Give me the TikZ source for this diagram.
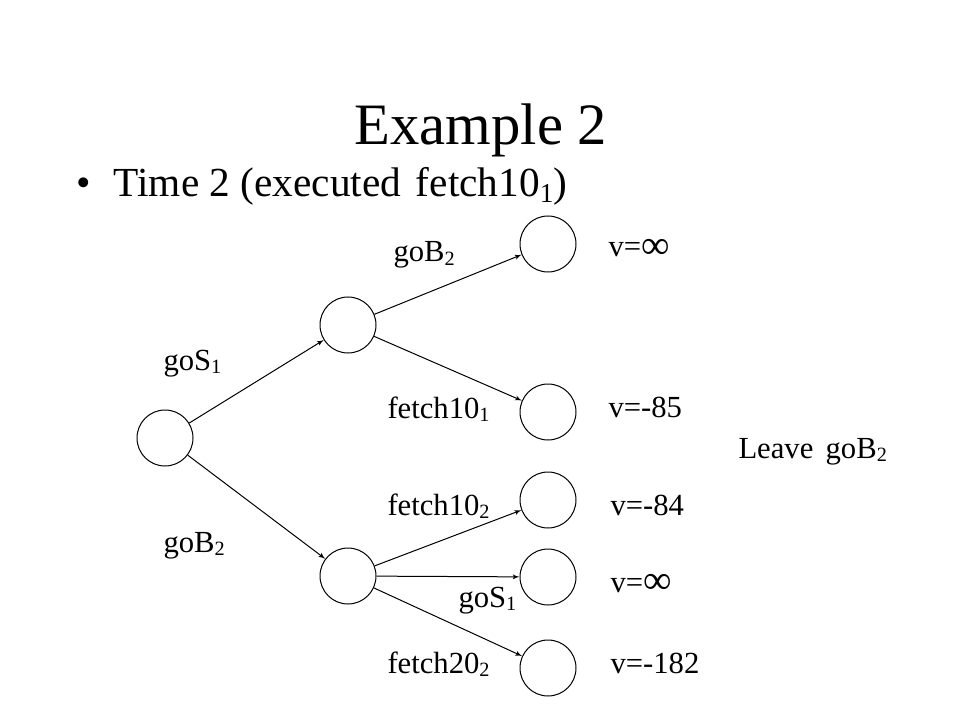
\documentclass[tikz,border=0pt]{standalone}
\usepackage{fontspec}
\setmainfont{Liberation Serif}
\usetikzlibrary{arrows,positioning}
\tikzstyle{situation}=[draw, circle, fill=white, minimum size=42pt, inner sep=0pt]
\tikzstyle{word}=[anchor=base west, inner sep=0pt, font=\fontsize{23}{27}\selectfont]
\newcommand{\lowidx}[1]{\raisebox{-0.13em}{\scalebox{0.66}{#1}}}
\newcommand{\bigINF}{\raisebox{-0.05em}{\scalebox{1.3}{∞}}}

\begin{document}
\begin{tikzpicture}[x=0.75pt,y=-0.75pt,>=latex',line width=0.75pt]
                        \useasboundingbox (0,0) rectangle (960,720);
                        \node [anchor=base,inner sep=0pt,font=\fontsize{44}{50}\selectfont] (title) at (481,145) {Example 2};
                        \node [anchor=base west,inner sep=0pt,font=\fontsize{31}{37}\selectfont] (time) at (76,197) {•\hspace{0.55em}Time 2 (executed\hspace{0.35em}fetch10\lowidx{1})};
                        % game tree
                        \node [situation] (root) at (165,438) {};
                        \node [situation] (up) at (348,325) {};
                        \node [situation] (down) at (348,576) {};
                        \node [situation] (l1) at (548,244) {};
                        \node [situation] (l2) at (548,412) {};
                        \node [situation] (l3) at (548,500) {};
                        \node [situation] (l4) at (548,577) {};
                        \node [situation] (l5) at (548,668) {};
                        \path[->]
                        (root) edge node {} (up)
                        (root) edge node {} (down)
                        (up) edge node {} (l1)
                        (up) edge node {} (l2)
                        (down) edge node {} (l3)
                        (down) edge node {} (l4)
                        (down) edge node {} (l5);
                        % moves
                        \node [word] (m1) at (163,370) {goS\lowidx{1}};
                        \node [word] (m2) at (163,552) {goB\lowidx{2}};
                        \node [word] (m3) at (393,262) {goB\lowidx{2}};
                        \node [word] (m4) at (387,418) {fetch10\lowidx{1}};
                        \node [word] (m5) at (387,515) {fetch10\lowidx{2}};
                        \node [word] (m6) at (458,607) {goS\lowidx{1}};
                        \node [word] (m7) at (387,673) {fetch20\lowidx{2}};
                        % values
                        \node [word] (v1) at (608,257) {v=\bigINF};
                        \node [word] (v2) at (608,417) {v=-85};
                        \node [word] (v3) at (610,515) {v=-84};
                        \node [word] (v4) at (610,592) {v=\bigINF};
                        \node [word] (v5) at (610,673) {v=-182};
                        \node [word] (leave) at (738,458) {Leave\hspace{0.4em}goB\lowidx{2}};
                    \end{tikzpicture}
\end{document}
